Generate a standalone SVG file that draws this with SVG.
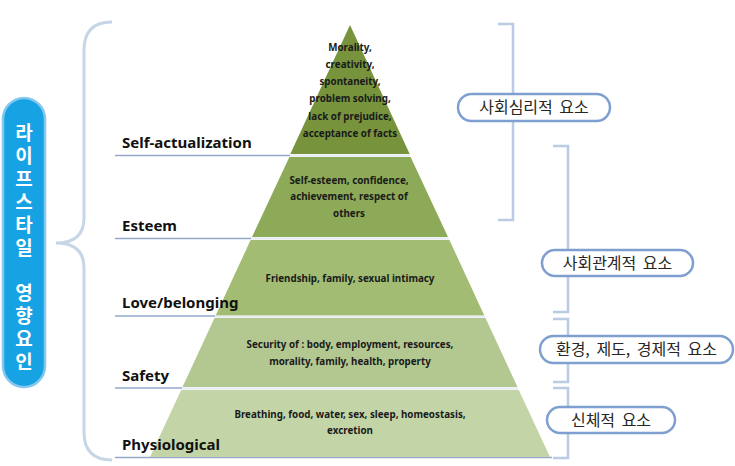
<svg xmlns="http://www.w3.org/2000/svg" width="735" height="466" viewBox="0 0 735 466">
<style>
.lvl{font-family:"Noto Sans","Liberation Sans",sans-serif;font-weight:bold;font-size:15px;fill:#111}
.in{font-family:"Noto Sans","Liberation Sans",sans-serif;font-weight:bold;font-size:9.8px;fill:#1a1a1a;text-anchor:middle}
.pill{fill:#fff;stroke:#7f9fd0;stroke-width:2.5}
.pt{font-family:"Noto Sans CJK KR","Noto Sans",sans-serif;font-size:16px;fill:#262626;text-anchor:middle;word-spacing:3px}
.brk{fill:none;stroke:#b9cce3;stroke-width:2.5}
.hl{stroke:#93a8c9;stroke-width:1.5}
.gap{stroke:#e4ebf4;stroke-width:2}
.vt{font-family:"Noto Sans CJK KR",sans-serif;font-size:19px;font-weight:bold;fill:#fff;writing-mode:vertical-rl;text-orientation:upright;letter-spacing:4px}
</style>
<rect width="735" height="466" fill="#fff"/>
<g id="connectors">
<path d="M112,22 Q84,22 84,50 L84,218 Q84,243 56,243 Q84,243 84,268 L84,432 Q84,460 112,460" fill="none" stroke="#c7d6e7" stroke-width="3"/>
<path class="brk" d="M498,24 H513 V220 H498"/>
<path class="brk" d="M553,146 H568 V312 H553"/>
<path class="brk" d="M553,319 H568 V382 H553"/>
<path class="brk" d="M553,388 H568 V458 H553"/>
<line class="hl" x1="115" y1="155.5" x2="290" y2="155.5"/>
<line class="hl" x1="115" y1="238.5" x2="251" y2="238.5"/>
<line class="hl" x1="115" y1="316" x2="215" y2="316"/>
<line class="hl" x1="115" y1="388" x2="182" y2="388"/>
<line class="hl" x1="115" y1="457.5" x2="552" y2="457.5"/>
</g>
<g id="pyramid">
<polygon id="band-self" points="350,25 409.7,154 290.3,154" fill="#77933c"/>
<polygon id="band-esteem" points="289.4,157 410.6,157 448,237 252,237" fill="#8caa57"/>
<polygon id="band-love" points="250.6,240 449.4,240 484.3,315.5 215.7,315.5" fill="#a2bc73"/>
<polygon id="band-safety" points="214.5,318 485.5,318 517.5,387 182.5,387" fill="#b3c891"/>
<polygon id="band-phys" points="181.2,390 518.8,390 550,457 150,457" fill="#c3d5a7"/>
<line class="gap" x1="290" y1="155.5" x2="410" y2="155.5"/>
<line class="gap" x1="251" y1="238.5" x2="449" y2="238.5"/>
<line class="gap" x1="215" y1="316.8" x2="485" y2="316.8"/>
<line class="gap" x1="182" y1="388.5" x2="518" y2="388.5"/>
</g>
<g id="node-self">
<text class="lvl" x="122" y="148">Self-actualization</text>
<text class="in" x="350" y="51">Morality,</text>
<text class="in" x="350" y="68">creativity,</text>
<text class="in" x="350" y="85">spontaneity,</text>
<text class="in" x="350" y="102">problem solving,</text>
<text class="in" x="350" y="120">lack of prejudice,</text>
<text class="in" x="350" y="137">acceptance of facts</text>
</g>
<g id="node-esteem">
<text class="lvl" x="122" y="231">Esteem</text>
<text class="in" x="349" y="184">Self-esteem, confidence,</text>
<text class="in" x="349" y="200">achievement, respect of</text>
<text class="in" x="349" y="217">others</text>
</g>
<g id="node-love">
<text class="lvl" x="122" y="308">Love/belonging</text>
<text class="in" x="350" y="282">Friendship, family, sexual intimacy</text>
</g>
<g id="node-safety">
<text class="lvl" x="122" y="381">Safety</text>
<text class="in" x="350" y="348">Security of : body, employment, resources,</text>
<text class="in" x="350" y="365">morality, family, health, property</text>
</g>
<g id="node-phys">
<text class="lvl" x="122" y="450">Physiological</text>
<text class="in" x="350" y="418">Breathing, food, water, sex, sleep, homeostasis,</text>
<text class="in" x="350" y="434">excretion</text>
</g>
<g id="node-lifestyle">
<rect x="3" y="98" width="42" height="289" rx="21" fill="#16a2e3" stroke="#84c8ef" stroke-width="2.5"/>
<text class="vt" x="24" y="123">라이프스타일</text>
<text class="vt" x="24" y="283.5">영향요인</text>
</g>
<g id="node-psych">
<rect class="pill" x="458" y="94" width="152" height="27" rx="13.5"/>
<text class="pt" x="534" y="113">사회심리적 요소</text>
</g>
<g id="node-social">
<rect class="pill" x="542" y="250" width="151" height="26" rx="13"/>
<text class="pt" x="617.5" y="269">사회관계적 요소</text>
</g>
<g id="node-env">
<rect class="pill" x="540" y="336" width="193" height="27" rx="13.5"/>
<text class="pt" x="636.5" y="355">환경, 제도, 경제적 요소</text>
</g>
<g id="node-body">
<rect class="pill" x="547" y="407" width="128" height="26" rx="13"/>
<text class="pt" x="611" y="426">신체적 요소</text>
</g>
</svg>
